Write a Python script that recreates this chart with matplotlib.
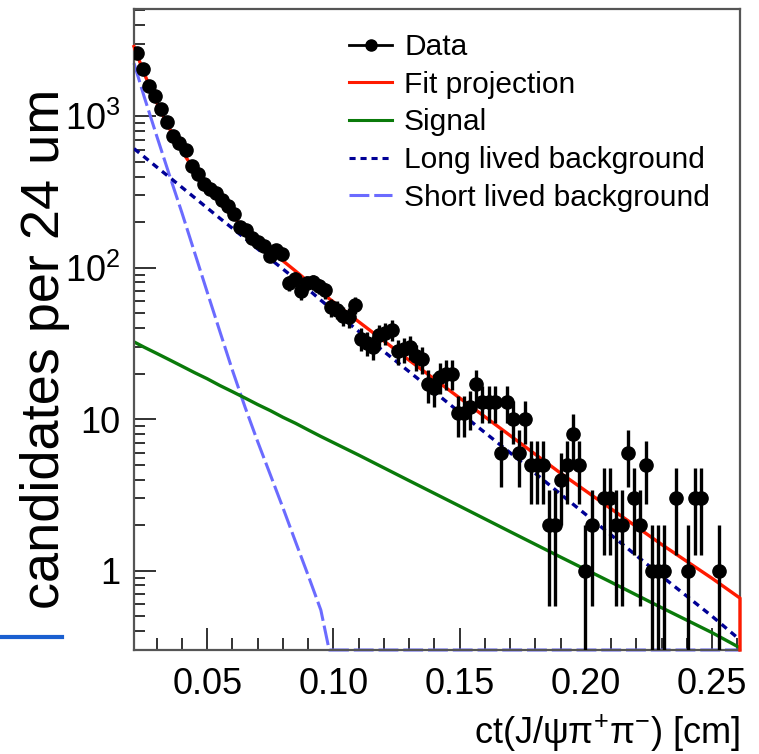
import numpy as np
import matplotlib
matplotlib.use("Agg")
import matplotlib.pyplot as plt
from matplotlib.lines import Line2D
from matplotlib.ticker import FixedLocator, MultipleLocator, LogLocator, NullFormatter

plt.rcParams['font.family'] = ['Liberation Sans', 'DejaVu Sans']
plt.rcParams['mathtext.fontset'] = 'custom'
plt.rcParams['mathtext.rm'] = 'Liberation Sans'
plt.rcParams['mathtext.it'] = 'Liberation Sans:italic'
plt.rcParams['mathtext.bf'] = 'Liberation Sans:bold'

# histogram of ct, 100 bins of 24 um
ct_lo, ct_hi, n_bins = 0.021, 0.261, 100
y_lo, y_hi = 0.3, 5100

counts = [2620, 2050, 1580, 1350, 1110, 910, 745, 665, 600, 466,
          413, 355, 332, 312, 278, 254, 225, 185, 178, 156,
          147, 140, 120, 130, 123, 79, 84, 70, 79, 80,
          76, 71, 55, 53, 48, 47, 57, 34, 32, 30,
          36, 37, 39, 28, 29, 30, 26, 25, 17, 16,
          19, 20, 20, 11, 11, 12, 17, 13, 13, 13,
          6, 13, 10, 6, 10, 5, 5, 5, 2, 2,
          4, 5, 8, 5, 1, 2, 0, 3, 3, 2,
          2, 6, 3, 2, 5, 1, 1, 1, 0, 3,
          0, 1, 3, 3, 0, 0, 1, 0, 0, 0]

# fit components, read at these ct values
curve_ct = [0.021, 0.025, 0.030, 0.035, 0.040, 0.045, 0.050, 0.055, 0.060, 0.065,
            0.070, 0.075, 0.080, 0.085, 0.090, 0.095, 0.110, 0.130, 0.150, 0.170,
            0.190, 0.210, 0.230, 0.250, 0.261]
fit_proj = [2883, 1920, 1229, 831, 591, 436, 336, 267, 218, 182,
            153, 130, 111, 95, 81, 69, 44, 24.5, 13.8, 7.8,
            4.4, 2.56, 1.49, 0.89, 0.66]
signal = [32.4, 29.9, 27.2, 24.7, 22.4, 20.3, 18.5, 16.7, 15.2, 13.8,
          12.5, 11.4, 10.3, 9.4, 8.5, 7.7, 5.8, 3.93, 2.67, 1.81,
          1.23, 0.84, 0.57, 0.39, 0.31]
long_bkg = [611, 540, 462, 396, 339, 290, 248, 212, 182, 156,
            133, 114, 98, 84, 72, 61, 38, 20.6, 11.1, 6.0,
            3.2, 1.72, 0.92, 0.50, 0.35]

short_ct = [0.021, 0.025, 0.030, 0.035, 0.040, 0.045, 0.050, 0.055, 0.060, 0.065,
            0.070, 0.075, 0.080, 0.085, 0.090, 0.095, 0.0983, 0.261]
short_bkg = [2240, 1350, 740, 410, 230, 126, 69, 38, 21, 12,
             7.1, 4.3, 2.6, 1.55, 0.93, 0.55, 0.3, 0.3]

ytick_vals = [1, 10, 100, 1000]
ytick_labels = ['1', '10', '$10^{2}$', '$10^{3}$']
xtick_vals = [0.05, 0.10, 0.15, 0.20, 0.25]
xtick_labels = ['0.05', '0.10', '0.15', '0.20', '0.25']

fig = plt.figure(figsize=(7.59, 7.54), dpi=100)
ax = fig.add_axes([134 / 759, 1 - 650 / 754, 606 / 759, 641 / 754])
ax.set_yscale('log')

width = (ct_hi - ct_lo) / n_bins
centers = ct_lo + width * (np.arange(n_bins) + 0.5)
n = np.array(counts, dtype=float)
keep = n > 0

ax.plot(short_ct, short_bkg, color='#6b6bff', lw=2.2, dashes=(6.5, 1.6), clip_on=False, zorder=2)
ax.plot(curve_ct, signal, color='#0a7a0a', lw=2.4, zorder=2)
ax.plot(curve_ct, long_bkg, color='#000096', lw=2.4, dashes=(2.0, 1.6), zorder=3)
ax.plot(curve_ct + [curve_ct[-1]], fit_proj + [y_lo], color='#ff1a00', lw=2.4, zorder=3, clip_on=False)
ax.errorbar(centers[keep], n[keep], yerr=np.sqrt(n[keep]), fmt='o', color='black',
            ms=9.5, elinewidth=2.4, capsize=0, zorder=5)

ax.set_xlim(ct_lo, ct_hi)
ax.set_ylim(y_lo, y_hi)

ax.yaxis.set_major_locator(FixedLocator(ytick_vals))
ax.set_yticklabels(ytick_labels)
ax.yaxis.set_minor_locator(LogLocator(base=10, subs=np.arange(2, 10)))
ax.yaxis.set_minor_formatter(NullFormatter())
ax.xaxis.set_major_locator(FixedLocator(xtick_vals))
ax.set_xticklabels(xtick_labels)
ax.xaxis.set_minor_locator(MultipleLocator(0.01))

ax.tick_params(which='both', direction='in', top=False, right=False, colors='#222222',
               labelcolor='black', labelsize=26, width=1.3)
ax.tick_params(axis='y', which='major', length=16, pad=10)
ax.tick_params(axis='y', which='minor', length=8)
ax.tick_params(axis='x', which='major', length=16, pad=12)
ax.tick_params(axis='x', which='minor', length=9)
for s in ax.spines.values():
    s.set_color('#555555')
    s.set_linewidth(1.6)

handles = [
    Line2D([], [], color='black', lw=2, marker='o', ms=8),
    Line2D([], [], color='#ff1a00', lw=2.2),
    Line2D([], [], color='#0a7a0a', lw=2.2),
    Line2D([], [], color='#000096', lw=2.2, dashes=(2.0, 1.6)),
    Line2D([], [], color='#6b6bff', lw=2.2, dashes=(6.5, 1.6)),
]
labels = ['Data', 'Fit projection', 'Signal', 'Long lived background', 'Short lived background']
ax.legend(handles, labels, loc='upper left', bbox_to_anchor=(0.355, 0.962), frameon=False,
          fontsize=21.5, handlelength=1.44, handletextpad=0.4, labelspacing=0.32,
          borderpad=0, borderaxespad=0)

fig.text(45 / 759, 0.538, 'candidates per 24 um', rotation=90, fontsize=39,
         ha='center', va='center')
fig.text(740 / 759, 1 - 733 / 754, r'ct(J/ψπ$^{+}$π$^{-}$) [cm]', fontsize=26,
         ha='right', va='center')
fig.add_artist(Line2D([0, 62 / 759], [1 - 637 / 754, 1 - 637 / 754], color='#1a5fd0',
                      lw=3, transform=fig.transFigure))

fig.savefig('out.png', dpi=100)
